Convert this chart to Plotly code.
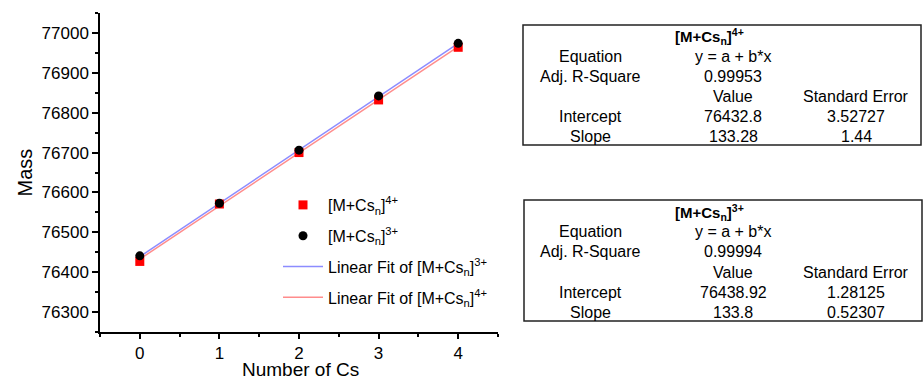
import plotly.graph_objects as go

# ---- data ----
n_cs = [0, 1, 2, 3, 4]
mass_4plus = [76427, 76571, 76700, 76832, 76964]
mass_3plus = [76441, 76573, 76706, 76842, 76974]

fit4_intercept, fit4_slope = 76432.8, 133.28
fit3_intercept, fit3_slope = 76438.92, 133.8
fit_x = [0, 4]
fit4_y = [fit4_intercept + fit4_slope * x for x in fit_x]
fit3_y = [fit3_intercept + fit3_slope * x for x in fit_x]

y_ticks = [76300, 76400, 76500, 76600, 76700, 76800, 76900, 77000]
y_tick_labels = [str(v) for v in y_ticks]
x_ticks = [0, 1, 2, 3, 4]

x_title = "Number of Cs"
y_title = "Mass"

name4 = "[M+Cs<sub>n</sub>]<sup>4+</sup>"
name3 = "[M+Cs<sub>n</sub>]<sup>3+</sup>"

table4 = {
    "title": "<b>" + name4 + "</b>",
    "rows": [["Equation", "y = a + b*x", ""],
             ["Adj. R-Square", "0.99953", ""],
             ["", "Value", "Standard Error"],
             ["Intercept", "76432.8", "3.52727"],
             ["Slope", "133.28", "1.44"]],
}
table3 = {
    "title": "<b>" + name3 + "</b>",
    "rows": [["Equation", "y = a + b*x", ""],
             ["Adj. R-Square", "0.99994", ""],
             ["", "Value", "Standard Error"],
             ["Intercept", "76438.92", "1.28125"],
             ["Slope", "133.8", "0.52307"]],
}

# ---- layout geometry (pixels) ----
W, H = 923, 381
L, R, T, B = 100, 425, 13, 49
PW, PH = W - L - R, H - T - B

def px(x):
    return (x - L) / PW

def py(y):
    return 1 - (y - T) / PH

FONT = "Liberation Sans, Arial, sans-serif"

fig = go.Figure()
fig.add_trace(go.Scatter(x=fit_x, y=fit3_y, mode="lines", name="Linear Fit of " + name3,
                         line=dict(color="#8c8cff", width=1.5), legendrank=3, legendgroup="c"))
fig.add_trace(go.Scatter(x=fit_x, y=fit4_y, mode="lines", name="Linear Fit of " + name4,
                         line=dict(color="#ff8c8c", width=1.5), legendrank=4, legendgroup="d"))
fig.add_trace(go.Scatter(x=n_cs, y=mass_4plus, mode="markers", name=name4,
                         marker=dict(symbol="square", color="#ff0000", size=9), legendrank=1,
                         legendgroup="a"))
fig.add_trace(go.Scatter(x=n_cs, y=mass_3plus, mode="markers", name=name3,
                         marker=dict(symbol="circle", color="#000000", size=9), legendrank=2,
                         legendgroup="b"))

shapes = []
annotations = []

def add_table(tab, top, bottom, left, right):
    shapes.append(dict(type="rect", xref="paper", yref="paper",
                       x0=px(left), x1=px(right), y0=py(bottom), y1=py(top),
                       line=dict(color="#222", width=1.5)))
    row_h = (bottom - top) / 6.0
    annotations.append(dict(xref="paper", yref="paper", x=px(709), y=py(top + 12),
                            text=tab["title"], showarrow=False, xanchor="center", yanchor="middle",
                            font=dict(size=15, family=FONT, color="black"), borderpad=0))
    col_x = [590, 733, 856]
    for i, row in enumerate(tab["rows"]):
        yc = top + 1.5 + row_h * (i + 1.5)
        for j, txt in enumerate(row):
            if txt:
                annotations.append(dict(xref="paper", yref="paper", x=px(col_x[j]), y=py(yc),
                                        text=txt, showarrow=False, xanchor="center", yanchor="middle",
                                        font=dict(size=16, family=FONT, color="black"), borderpad=0))

add_table(table4, 25, 145, 523, 921)
add_table(table3, 200, 321, 524, 922)

# x-axis title
annotations.append(dict(xref="paper", yref="paper", x=px(300), y=py(369.5), text=x_title,
                        showarrow=False, xanchor="center", yanchor="middle", borderpad=0,
                        font=dict(size=19, family=FONT, color="black")))

axis_common = dict(showline=True, linecolor="black", linewidth=1.5, ticks="outside",
                   tickwidth=1.5, tickcolor="black", showgrid=False, zeroline=False,
                   tickfont=dict(size=17, family=FONT, color="black"), mirror=False,
                   automargin=False)

fig.update_layout(
    width=W, height=H,
    margin=dict(l=L, r=R, t=T, b=B, autoexpand=False),
    paper_bgcolor="white", plot_bgcolor="white",
    font=dict(family=FONT, color="black"),
    shapes=shapes, annotations=annotations,
    legend=dict(x=px(278), y=py(188), xanchor="left", yanchor="top",
                font=dict(size=16, family=FONT, color="black"),
                bgcolor="rgba(0,0,0,0)", tracegroupgap=7, itemwidth=40),
    xaxis=dict(range=[-0.5, 4.5], tickvals=x_ticks, ticklen=5,
               minor=dict(dtick=0.5, ticks="outside", ticklen=3, tickcolor="black", tickwidth=1.5),
               **axis_common),
    yaxis=dict(range=[76250, 77050], tickvals=y_ticks, ticktext=y_tick_labels, ticklen=6,
               title=dict(text=y_title, font=dict(size=20, family=FONT), standoff=4),
               minor=dict(dtick=50, ticks="outside", ticklen=3, tickcolor="black", tickwidth=1.5),
               **axis_common),
)

fig.write_html("out.html", config={"displayModeBar": False},
               post_script="document.body.style.margin='0';")
